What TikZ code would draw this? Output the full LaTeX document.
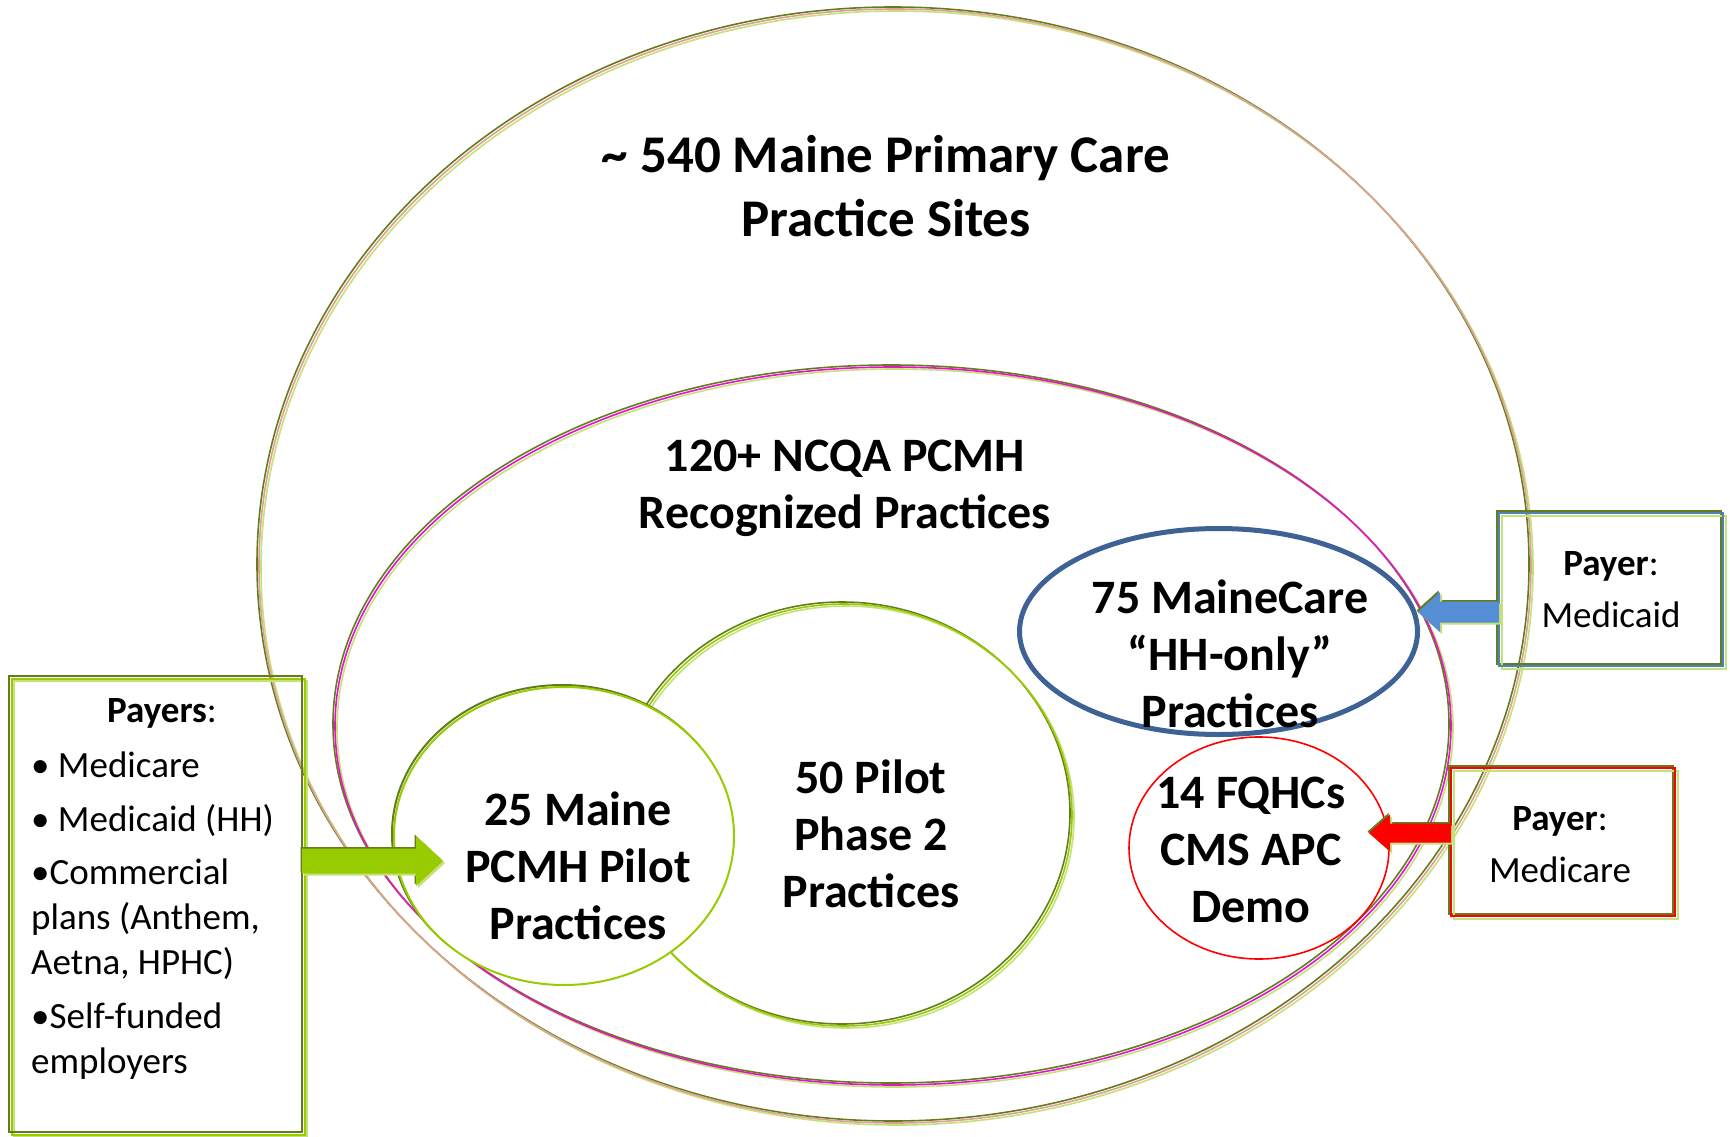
\documentclass[tikz,border=0pt]{standalone}
\usepackage{fontspec}
\setmainfont{Carlito}
\usetikzlibrary{calc}
\definecolor{olivec}{RGB}{98,125,30}
\definecolor{pinkc}{RGB}{222,160,150}
\definecolor{lgreen}{RGB}{196,226,120}
\definecolor{ygreen}{RGB}{153,204,0}
\definecolor{magc}{RGB}{228,20,205}
\definecolor{bluedk}{RGB}{62,98,148}
\definecolor{bluearr}{RGB}{85,142,213}
\definecolor{boxblue}{RGB}{79,129,189}
\definecolor{redc}{RGB}{255,0,0}

\newcommand\triring[6]{%
  \draw[#4, ln, transform canvas={shift={(-2,-2)}}] (#1) ellipse [x radius=#2pt, y radius=#3pt];
  \draw[#6, ln, transform canvas={shift={(2,2)}}] (#1) ellipse [x radius=#2pt, y radius=#3pt];
  \draw[#5, ln] (#1) ellipse [x radius=#2pt, y radius=#3pt];}

\newcommand\blockarr[7]{%
  \fill[#6,#7] ([yshift=#3pt]#1) -- ([xshift=#5pt,yshift=#3pt]#2) -- ([xshift=#5pt,yshift=#4pt]#2) -- (#2)
     -- ([xshift=#5pt,yshift=-#4pt]#2) -- ([xshift=#5pt,yshift=-#3pt]#2) -- ([yshift=-#3pt]#1) -- cycle;}

\newcommand\shadowrect[4]{% node, dx, dy, style
  \draw[#4] ([shift={(#2,#3)}]#1.north west) rectangle ([shift={(#2,#3)}]#1.south east);}

\begin{document}
\begin{tikzpicture}[x=1pt,y=-1pt,
  ln/.style={line width=1.6pt},
  ttl/.style={font=\bfseries\fontsize{53}{64}\selectfont, align=center, inner sep=0},
  lbl/.style={font=\bfseries\fontsize{48}{57}\selectfont, align=center, inner sep=0},
  ptxt/.style={font=\fontsize{37}{45}\selectfont, align=left, inner sep=0},
  pbox/.style={rectangle, inner sep=0, outer sep=0, align=center, font=\fontsize{37}{52}\selectfont},
]
\useasboundingbox[fill=white] (0,0) rectangle (1730,1137);

% ellipse centres
\coordinate (cOut) at (895,566);
\coordinate (cMid) at (893,726);
\coordinate (cFifty) at (844,815);
\coordinate (cTwentyFive) at (564,836);
\coordinate (cHH) at (1218.5,631.5);
\coordinate (cFQ) at (1259,848);

% rings
\triring{cOut}{636}{557}{olivec}{pinkc}{lgreen}
\triring{cMid}{558}{359}{olivec}{magc}{lgreen}
\triring{cFifty}{228}{211}{olivec}{ygreen}{lgreen}

\draw[olivec, line width=2pt, transform canvas={shift={(-2,-2)}}] (cTwentyFive) ellipse [x radius=170pt, y radius=149pt];
\filldraw[fill=white, draw=ygreen, line width=2pt] (cTwentyFive) ellipse [x radius=170pt, y radius=149pt];

\draw[bluedk, line width=5pt] (cHH) ellipse [x radius=199pt, y radius=103pt];
\draw[redc, line width=1.6pt] (cFQ) ellipse [x radius=130pt, y radius=111pt];

% boxes
\node[pbox, minimum width=293pt, minimum height=456pt] (payersBox) at (155.5,904) {};
\shadowrect{payersBox}{4.5}{4.5}{lgreen, line width=2pt}
\shadowrect{payersBox}{3}{3}{ygreen, line width=2pt}
\shadowrect{payersBox}{0}{0}{olivec, line width=2pt}

\node[pbox, minimum width=224pt, minimum height=153pt] (medicaidBox) at (1611,589.5) {\textbf{Payer}:\\Medicaid};
\shadowrect{medicaidBox}{-2.5}{-2.5}{olivec, line width=2pt}
\shadowrect{medicaidBox}{2.5}{2.5}{lgreen, line width=2pt}
\shadowrect{medicaidBox}{0}{0}{boxblue, line width=2pt}

\node[pbox, minimum width=224pt, minimum height=148pt] (medicareBox) at (1563,842) {};
\node[pbox] (tMedicare) at (1560,845) {\textbf{Payer}:\\Medicare};
\shadowrect{medicareBox}{-2.5}{-2.5}{olivec, line width=2pt}
\shadowrect{medicareBox}{2.5}{2.5}{lgreen, line width=2pt}
\shadowrect{medicareBox}{0}{0}{redc, line width=2pt}

% arrows
\coordinate (gTip) at (443,861);
\coordinate (gTail) at (payersBox.east |- gTip);
\coordinate (bTip) at (1418,612);
\coordinate (bTail) at (medicaidBox.west |- bTip);
\coordinate (rTip) at (1369,833);
\coordinate (rTail) at (medicareBox.west |- rTip);

\blockarr{gTail}{gTip}{12.5}{25}{-27}{olivec}{transform canvas={shift={(-1.5,-1.5)}}}
\blockarr{gTail}{gTip}{12.5}{25}{-27}{lgreen}{transform canvas={shift={(2,2)}}}
\blockarr{gTail}{gTip}{12.5}{25}{-27}{ygreen}{}

\blockarr{bTail}{bTip}{10.5}{20}{22}{olivec}{transform canvas={shift={(-1.5,-1.5)}}}
\blockarr{bTail}{bTip}{10.5}{20}{22}{lgreen}{transform canvas={shift={(2,2)}}}
\blockarr{bTail}{bTip}{10.5}{20}{22}{bluearr}{}

\blockarr{rTail}{rTip}{9.5}{18.5}{21}{olivec}{transform canvas={shift={(-1.5,-1.5)}}}
\blockarr{rTail}{rTip}{9.5}{18.5}{21}{lgreen}{transform canvas={shift={(2,2)}}}
\blockarr{rTail}{rTip}{9.5}{18.5}{21}{redc}{}

% texts
\node[ttl] (tSites) at (886,186) {\textasciitilde\ 540 Maine Primary Care\\Practice Sites};
\node[lbl] (tNCQA) at (845,488) {120+ NCQA PCMH\\Recognized Practices};
\node[lbl] (tTwentyFive) at (578,865.5) {25 Maine\\PCMH Pilot\\Practices};
\node[lbl] (tFifty) at (871,833.5) {50 Pilot\\Phase 2\\Practices};
\node[lbl] (tHH) at (1230,653.5) {75 MaineCare\\“HH-only”\\Practices};
\node[lbl] (tFQ) at (1251,850) {14 FQHCs\\CMS APC\\Demo};

\node[ptxt, anchor=center] (tPayers) at (162,713) {\textbf{Payers}:};
\node[ptxt, anchor=north west] (tPayList) at (31,752) {• Medicare\\[8.5pt]• Medicaid (HH)\\[8.5pt]•Commercial\\plans (Anthem,\\Aetna, HPHC)\\[8.5pt]•Self-funded\\employers};
\end{tikzpicture}
\end{document}
